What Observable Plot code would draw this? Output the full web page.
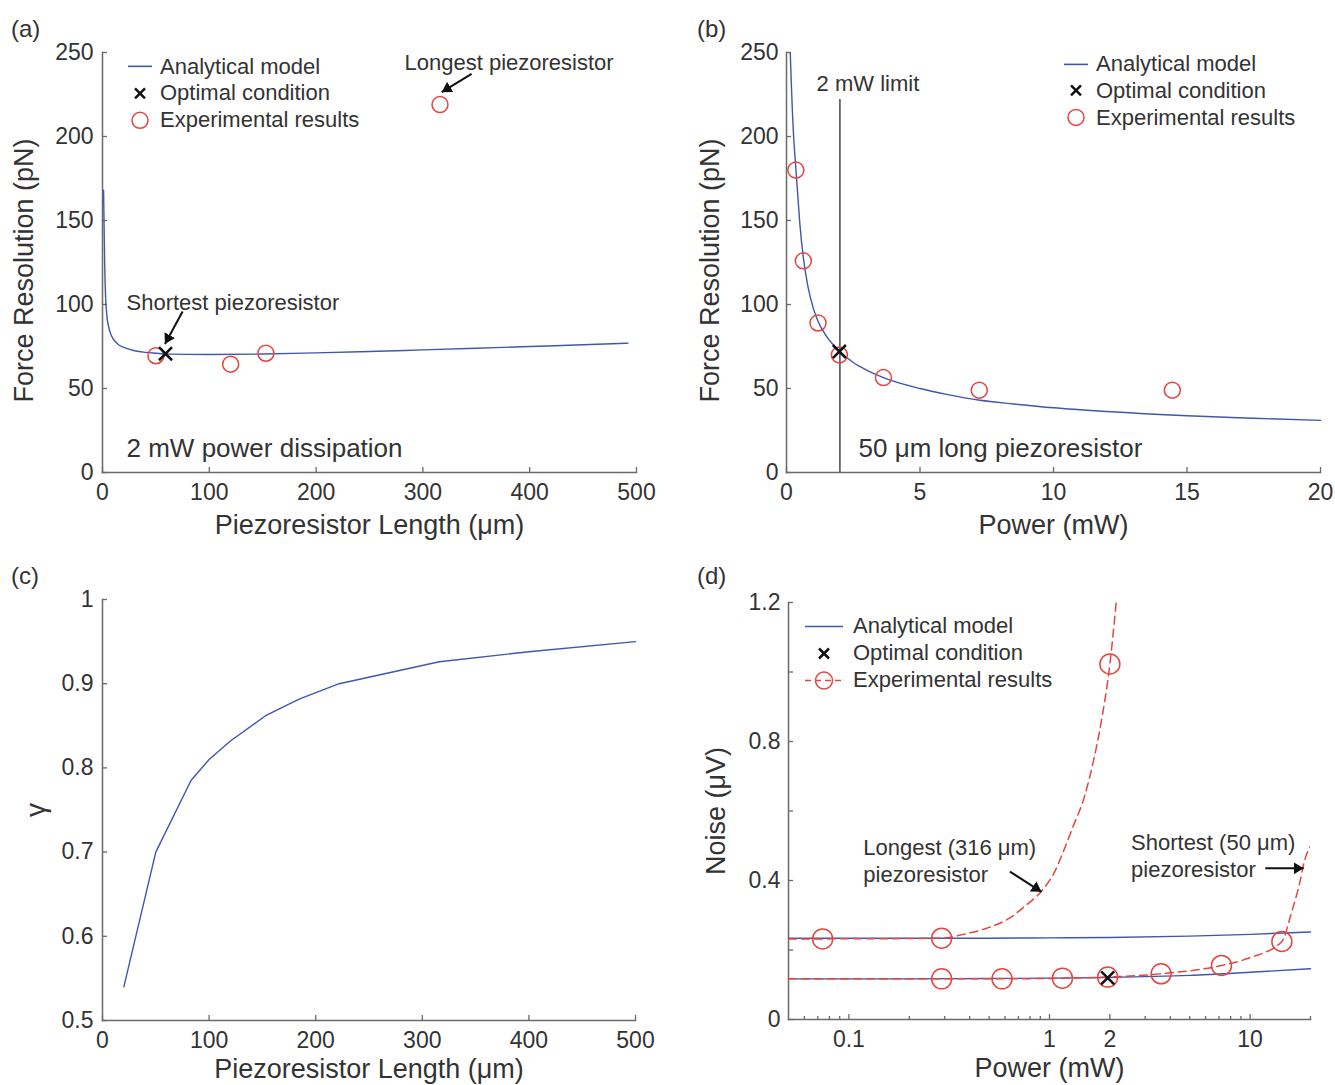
<!DOCTYPE html>
<html>
<head>
<meta charset="utf-8">
<script src="https://cdn.jsdelivr.net/npm/d3@7"></script>
<script src="https://cdn.jsdelivr.net/npm/@observablehq/plot@0.6"></script>
<style>
  html, body { margin: 0; padding: 0; background: #fff; overflow: hidden; }
  #fig { position: relative; width: 1335px; height: 1085px; overflow: hidden;
         font-family: "Liberation Sans", Arial, Helvetica, sans-serif; color: #333; }
  #fig > svg { position: absolute; }
  .plab { position: absolute; font-size: 24px; line-height: 28px; }
  .lrow { position: absolute; display: flex; align-items: center; font-size: 22px; white-space: nowrap; }
</style>
</head>
<body>
<div id="fig"></div>
<script>
// ---------------- Panel (a): force resolution vs piezoresistor length ----------------
const lengthModelA = [1, 2, 3, 4, 6, 8, 10, 15, 20, 30, 40, 50, 60, 80, 100, 150, 200, 250, 300, 350, 400, 450, 492];
const forceModelA  = [168, 125, 103, 94, 86, 82, 79.5, 76, 74.5, 72.5, 71.5, 71, 70.6, 70.3, 70.2, 70.5, 71.2, 72, 73, 74, 75, 76, 77];
const lengthExpA = [50, 120, 153, 316];
const forceExpA  = [69.5, 64.5, 71, 219];
const lengthOptA = [59];
const forceOptA  = [70.7];
const xTicksA = [0, 100, 200, 300, 400, 500];
const yTicksA = [0, 50, 100, 150, 200, 250];
const noteTextA = ["Shortest piezoresistor", "Longest piezoresistor"];
const noteXA = [22.5, 282.8];
const noteYA = [101, 244];
const bigNoteTextA = ["2 mW power dissipation"];
const bigNoteXA = [22.5];
const bigNoteYA = [14.3];
const arrowX1A = [75, 345.6];
const arrowY1A = [95.8, 237.3];
const arrowX2A = [58.5, 317.6];
const arrowY2A = [76.5, 226.4];

// ---------------- Panel (b): force resolution vs power ----------------
const powerModelB = [0.14, 0.18, 0.22, 0.26, 0.30, 0.35, 0.40, 0.50, 0.63, 0.80, 1.0, 1.18, 1.5, 2.0, 2.5, 3.0, 3.63, 5, 6, 7.25, 8.5, 10, 12, 15, 17.5, 20];
const forceModelB = [250, 232, 215, 202, 192, 181, 170, 148, 128, 111, 98, 90, 81, 72, 65.5, 61, 56.5, 50, 46.5, 43, 40.8, 38.5, 36.3, 33.8, 32.3, 31];
const powerExpB = [0.35, 0.63, 1.18, 1.98, 3.63, 7.22, 14.45];
const forceExpB = [180, 126, 89, 70, 56.5, 49, 49];
const powerOptB = [1.98];
const forceOptB = [72];
const limitXB = [2];
const limitTopB = [222];
const limitTextB = ["2 mW limit"];
const limitTextXB = [3.05];
const limitTextYB = [231.5];
const bigNoteTextB = ["50 \u03bcm long piezoresistor"];
const bigNoteXB = [2.7];
const bigNoteYB = [14.3];
const xTicksB = [0, 5, 10, 15, 20];
const yTicksB = [0, 50, 100, 150, 200, 250];

// ---------------- Panel (c): gamma vs piezoresistor length ----------------
const lengthC = [20, 50, 83, 100, 120, 153, 185, 222, 316, 400, 500];
const gammaC  = [0.54, 0.70, 0.785, 0.81, 0.832, 0.862, 0.882, 0.90, 0.926, 0.938, 0.95];
const xTicksC = [0, 100, 200, 300, 400, 500];
const yTicksC = [0.5, 0.6, 0.7, 0.8, 0.9, 1];

// ---------------- Panel (d): noise vs power (log) ----------------
const powerModelD      = [0.05, 0.1, 0.2, 0.5, 1, 2, 5, 10, 20];
const noiseModelLongD  = [0.234, 0.234, 0.234, 0.234, 0.235, 0.236, 0.24, 0.245, 0.252];
const noiseModelShortD = [0.117, 0.117, 0.117, 0.118, 0.119, 0.121, 0.127, 0.136, 0.146];
const powerFitLongD = [0.05, 0.074, 0.29, 0.385, 0.5, 0.625, 0.75, 0.92, 1.05, 1.17, 1.3, 1.5, 1.65, 1.81, 2.0, 2.15];
const noiseFitLongD = [0.232, 0.232, 0.234, 0.247, 0.265, 0.29, 0.325, 0.372, 0.42, 0.482, 0.55, 0.645, 0.74, 0.856, 1.023, 1.2];
const powerExpLongD = [0.074, 0.29, 2.0];
const noiseExpLongD = [0.232, 0.234, 1.023];
const powerFitShortD = [0.05, 0.29, 0.58, 1.16, 1.95, 3.6, 7.2, 10, 14.4, 16.1, 17.7, 18.6, 20];
const noiseFitShortD = [0.117, 0.117, 0.117, 0.119, 0.122, 0.1315, 0.1555, 0.178, 0.2246, 0.309, 0.395, 0.453, 0.5];
const powerExpShortD = [0.29, 0.58, 1.16, 1.95, 3.6, 7.2, 14.4];
const noiseExpShortD = [0.117, 0.117, 0.119, 0.122, 0.1315, 0.1555, 0.2246];
const powerOptD = [1.95];
const noiseOptD = [0.12];
const xMajorTicksD = [0.1, 1, 2, 10];
const xMajorLabelsD = ["0.1", "1", "2", "10"];
const xMinorTicksD = [0.06, 0.07, 0.08, 0.09, 0.2, 0.3, 0.4, 0.5, 0.6, 0.7, 0.8, 0.9, 3, 4, 5, 6, 7, 8, 9, 20];
const yTicksD = [0, 0.2, 0.4, 0.6, 0.8, 1.0, 1.2];
const yLabelsD = ["0", "", "0.4", "", "0.8", "", "1.2"];
const noteTextD = ["Longest (316 \u03bcm)\npiezoresistor", "Shortest (50 \u03bcm)\npiezoresistor"];
const noteXD = [0.118, 2.55];
const noteYD = [0.46, 0.474];
const arrowX1D = [0.635, 11.9];
const arrowY1D = [0.4256, 0.435];
const arrowX2D = [0.912, 18.5];
const arrowY2D = [0.3675, 0.435];

// ---------------- helpers ----------------
const FONT = '"Liberation Sans", Arial, Helvetica, sans-serif';
const BLUE = "#4156ad";
const RED = "#e6453f";
const AXIS = "#6a6a6a";
const TEXT = "#333";
const zip = (xs, ys) => xs.map((x, i) => ({x, y: ys[i]}));
const fig = document.getElementById("fig");

function triMarker(color) {
  const m = d3.create("svg:marker")
    .attr("viewBox", "-5 -3 5 6")
    .attr("markerWidth", 5).attr("markerHeight", 6)
    .attr("refX", 0).attr("refY", 0)
    .attr("orient", "auto")
    .attr("fill", color).attr("stroke", "none");
  m.append("path").attr("d", "M-5,-3L0,0L-5,3Z");
  const node = m.node();
  node.node = () => node; // works whether Plot expects a node or a selection
  return node;
}

function place(svg, left, top) {
  svg.style.position = "absolute";
  svg.style.left = left + "px";
  svg.style.top = top + "px";
  svg.style.maxWidth = "none";
  fig.appendChild(svg);
}

const baseStyle = {fontFamily: FONT, fontSize: "23px", color: TEXT, background: "transparent", overflow: "visible"};
const axisFrames = () => [
  Plot.frame({anchor: "left", stroke: AXIS, strokeWidth: 1.5}),
  Plot.frame({anchor: "bottom", stroke: AXIS, strokeWidth: 1.5})
];
const xTitle = (t, dy) => Plot.text([t], {text: d => d, frameAnchor: "bottom", dy, lineAnchor: "middle", textAnchor: "middle", fontSize: 27, fill: TEXT});
const yTitle = (t, dx, dy = 0, size = 27) => Plot.text([t], {text: d => d, frameAnchor: "left", dx, dy, rotate: -90, lineAnchor: "middle", textAnchor: "middle", fontSize: size, fill: TEXT});

// ---------------- Panel (a) ----------------
const notesA = noteTextA.map((t, i) => ({t, x: noteXA[i], y: noteYA[i]}));
const bigA = bigNoteTextA.map((t, i) => ({t, x: bigNoteXA[i], y: bigNoteYA[i]}));
const arrowsA = arrowX1A.map((_, i) => ({x1: arrowX1A[i], y1: arrowY1A[i], x2: arrowX2A[i], y2: arrowY2A[i]}));
const plotA = Plot.plot({
  width: 668, height: 545,
  marginLeft: 102, marginRight: 32, marginTop: 52, marginBottom: 73,
  style: baseStyle,
  x: {domain: [0, 500]},
  y: {domain: [0, 250]},
  marks: [
    Plot.axisX({ticks: xTicksA, tickSize: -5, tickPadding: 16, label: null, stroke: AXIS, strokeWidth: 1.3}),
    Plot.axisY({ticks: yTicksA, tickSize: -5, tickPadding: 14, label: null, stroke: AXIS, strokeWidth: 1.3}),
    ...axisFrames(),
    Plot.line(zip(lengthModelA, forceModelA), {x: "x", y: "y", stroke: BLUE, strokeWidth: 1.4, curve: "monotone-x"}),
    Plot.dot(zip(lengthExpA, forceExpA), {x: "x", y: "y", r: 8, stroke: RED, strokeWidth: 1.5}),
    Plot.dot(zip(lengthOptA, forceOptA), {x: "x", y: "y", r: 6, symbol: "times", stroke: "#111", strokeWidth: 2.5}),
    Plot.link(arrowsA, {x1: "x1", y1: "y1", x2: "x2", y2: "y2", stroke: "#111", strokeWidth: 2, markerEnd: triMarker}),
    Plot.text(notesA, {x: "x", y: "y", text: "t", textAnchor: "start", fontSize: 22, fill: TEXT}),
    Plot.text(bigA, {x: "x", y: "y", text: "t", textAnchor: "start", fontSize: 26, fill: TEXT}),
    xTitle("Piezoresistor Length (\u03bcm)", 53),
    yTitle("Force Resolution (pN)", -78, 8)
  ]
});
place(plotA, 0, 0);

// ---------------- Panel (b) ----------------
const limitB = limitXB.map((x, i) => ({x, top: limitTopB[i]}));
const limitLabelB = limitTextB.map((t, i) => ({t, x: limitTextXB[i], y: limitTextYB[i]}));
const bigB = bigNoteTextB.map((t, i) => ({t, x: bigNoteXB[i], y: bigNoteYB[i]}));
const plotB = Plot.plot({
  width: 667, height: 545,
  marginLeft: 118, marginRight: 15, marginTop: 52, marginBottom: 73,
  style: baseStyle,
  x: {domain: [0, 20]},
  y: {domain: [0, 250]},
  marks: [
    Plot.axisX({ticks: xTicksB, tickSize: -5, tickPadding: 16, label: null, stroke: AXIS, strokeWidth: 1.3}),
    Plot.axisY({ticks: yTicksB, tickSize: -5, tickPadding: 13, label: null, stroke: AXIS, strokeWidth: 1.3}),
    ...axisFrames(),
    Plot.ruleX(limitB, {x: "x", y1: 0, y2: "top", stroke: "#555", strokeWidth: 1.6}),
    Plot.line(zip(powerModelB, forceModelB), {x: "x", y: "y", stroke: BLUE, strokeWidth: 1.4, curve: "monotone-x"}),
    Plot.dot(zip(powerExpB, forceExpB), {x: "x", y: "y", r: 8, stroke: RED, strokeWidth: 1.5}),
    Plot.dot(zip(powerOptB, forceOptB), {x: "x", y: "y", r: 6, symbol: "times", stroke: "#111", strokeWidth: 2.5}),
    Plot.text(limitLabelB, {x: "x", y: "y", text: "t", fontSize: 22, fill: TEXT}),
    Plot.text(bigB, {x: "x", y: "y", text: "t", textAnchor: "start", fontSize: 26, fill: TEXT}),
    xTitle("Power (mW)", 53),
    yTitle("Force Resolution (pN)", -76, 8)
  ]
});
place(plotB, 668, 0);

// ---------------- Panel (c) ----------------
const plotC = Plot.plot({
  width: 668, height: 540,
  marginLeft: 102, marginRight: 33, marginTop: 54, marginBottom: 65,
  style: baseStyle,
  x: {domain: [0, 500]},
  y: {domain: [0.5, 1]},
  marks: [
    Plot.axisX({ticks: xTicksC, tickSize: -5, tickPadding: 16, label: null, stroke: AXIS, strokeWidth: 1.3}),
    Plot.axisY({ticks: yTicksC, tickSize: -5, tickPadding: 14, label: null, stroke: AXIS, strokeWidth: 1.3,
                tickFormat: d => String(+d.toFixed(1))}),
    ...axisFrames(),
    Plot.line(zip(lengthC, gammaC), {x: "x", y: "y", stroke: BLUE, strokeWidth: 1.4}),
    xTitle("Piezoresistor Length (\u03bcm)", 49),
    yTitle("\u03b3", -66, 0, 28)
  ]
});
place(plotC, 0, 545);

// ---------------- Panel (d) ----------------
const notesD = noteTextD.map((t, i) => ({t, x: noteXD[i], y: noteYD[i]}));
const arrowsD = arrowX1D.map((_, i) => ({x1: arrowX1D[i], y1: arrowY1D[i], x2: arrowX2D[i], y2: arrowY2D[i]}));
const plotD = Plot.plot({
  width: 667, height: 540,
  marginLeft: 120, marginRight: 25, marginTop: 57, marginBottom: 66,
  style: baseStyle,
  x: {type: "log", domain: [0.05, 20]},
  y: {domain: [0, 1.2]},
  marks: [
    Plot.axisX({ticks: xMinorTicksD, tickSize: -3, tickFormat: () => "", label: null, stroke: AXIS, strokeWidth: 1.3}),
    Plot.axisX({ticks: xMajorTicksD, tickSize: -5, tickPadding: 16, label: null, stroke: AXIS, strokeWidth: 1.3,
                tickFormat: d => xMajorLabelsD[xMajorTicksD.indexOf(d)]}),
    Plot.axisY({ticks: yTicksD, tickSize: -5, tickPadding: 13, label: null, stroke: AXIS, strokeWidth: 1.3,
                tickFormat: d => yLabelsD[yTicksD.findIndex(v => Math.abs(v - d) < 1e-9)]}),
    ...axisFrames(),
    Plot.line(zip(powerModelD, noiseModelLongD), {x: "x", y: "y", stroke: BLUE, strokeWidth: 1.4, curve: "monotone-x"}),
    Plot.line(zip(powerModelD, noiseModelShortD), {x: "x", y: "y", stroke: BLUE, strokeWidth: 1.4, curve: "monotone-x"}),
    Plot.line(zip(powerFitLongD, noiseFitLongD), {x: "x", y: "y", stroke: RED, strokeWidth: 1.5, strokeDasharray: "8,5", curve: "monotone-x", clip: true}),
    Plot.line(zip(powerFitShortD, noiseFitShortD), {x: "x", y: "y", stroke: RED, strokeWidth: 1.5, strokeDasharray: "8,5", curve: "monotone-x", clip: true}),
    Plot.dot(zip(powerExpLongD, noiseExpLongD), {x: "x", y: "y", r: 10, stroke: RED, strokeWidth: 1.5}),
    Plot.dot(zip(powerExpShortD, noiseExpShortD), {x: "x", y: "y", r: 10, stroke: RED, strokeWidth: 1.5}),
    Plot.dot(zip(powerOptD, noiseOptD), {x: "x", y: "y", r: 6, symbol: "times", stroke: "#111", strokeWidth: 2.5}),
    Plot.link(arrowsD, {x1: "x1", y1: "y1", x2: "x2", y2: "y2", stroke: "#111", strokeWidth: 2, markerEnd: triMarker}),
    Plot.text(notesD, {x: "x", y: "y", text: "t", textAnchor: "start", lineHeight: 1.23, fontSize: 22, fill: TEXT}),
    xTitle("Power (mW)", 49),
    yTitle("Noise (\u03bcV)", -72, 0)
  ]
});
place(plotD, 668, 545);

// ---------------- panel letters ----------------
[["(a)", 11, 15], ["(b)", 697, 15], ["(c)", 11, 562], ["(d)", 697, 562]].forEach(([t, l, tp]) => {
  const d = document.createElement("div");
  d.className = "plab";
  d.style.left = l + "px";
  d.style.top = tp + "px";
  d.textContent = t;
  fig.appendChild(d);
});

// ---------------- legends ----------------
const symLine = (w, h) => `<line x1="0" x2="${w}" y1="${h / 2}" y2="${h / 2}" stroke="${BLUE}" stroke-width="1.6"/>`;
const symTimes = (w, h) => {
  const cx = w / 2, cy = h / 2, s = 5;
  return `<path d="M${cx - s},${cy - s}L${cx + s},${cy + s}M${cx - s},${cy + s}L${cx + s},${cy - s}" stroke="#111" stroke-width="2.5" fill="none"/>`;
};
const symCircle = (w, h) => `<circle cx="${w / 2}" cy="${h / 2}" r="8" stroke="${RED}" stroke-width="1.5" fill="none"/>`;
const symDashCircle = (w, h) => `<line x1="0" x2="${w}" y1="${h / 2}" y2="${h / 2}" stroke="${RED}" stroke-width="1.5" stroke-dasharray="6,4"/>` +
  `<circle cx="${w / 2}" cy="${h / 2}" r="8.5" stroke="${RED}" stroke-width="1.5" fill="none"/>`;

function addLegend(left, firstCenter, rowH, symW, gap, items) {
  items.forEach(([sym, label], i) => {
    const row = document.createElement("div");
    row.className = "lrow";
    row.style.left = left + "px";
    row.style.top = (firstCenter + i * rowH - rowH / 2) + "px";
    row.style.height = rowH + "px";
    row.innerHTML = `<svg width="${symW}" height="${rowH}" style="margin-right:${gap}px;overflow:visible">${sym(symW, rowH)}</svg><span>${label}</span>`;
    fig.appendChild(row);
  });
}
const legendLabels = ["Analytical model", "Optimal condition", "Experimental results"];
addLegend(128, 66.8, 26.7, 24, 8, [[symLine, legendLabels[0]], [symTimes, legendLabels[1]], [symCircle, legendLabels[2]]]);
addLegend(1064, 64, 26.8, 24, 8, [[symLine, legendLabels[0]], [symTimes, legendLabels[1]], [symCircle, legendLabels[2]]]);
addLegend(805, 626, 27, 38, 10, [[symLine, legendLabels[0]], [symTimes, legendLabels[1]], [symDashCircle, legendLabels[2]]]);
</script>
</body>
</html>
